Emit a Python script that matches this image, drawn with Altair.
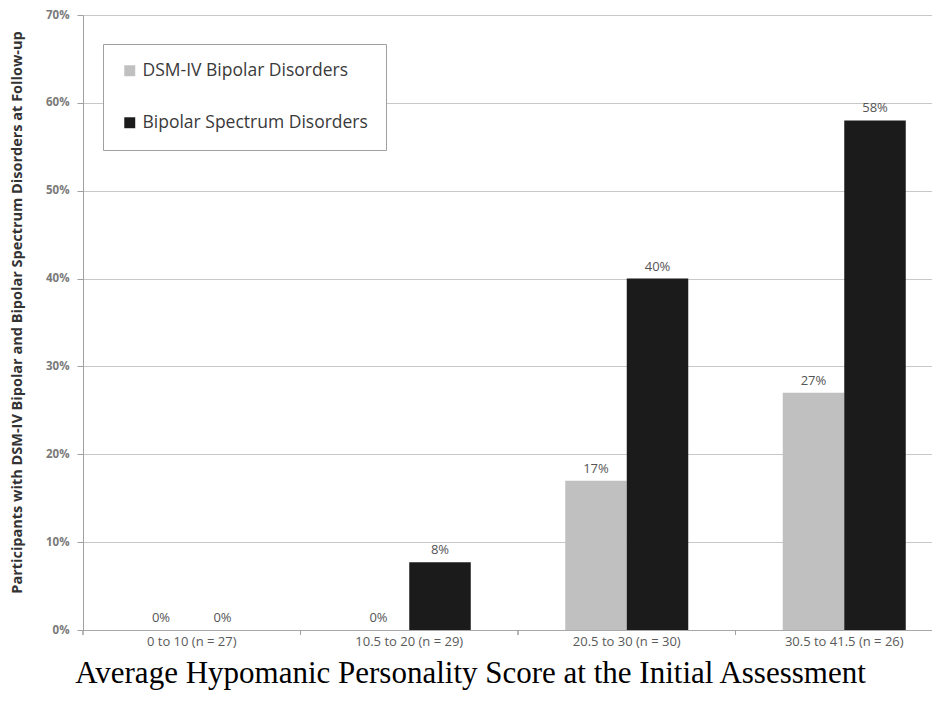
import altair as alt
import pandas as pd

categories = ["0 to 10 (n = 27)", "10.5 to 20 (n = 29)", "20.5 to 30 (n = 30)", "30.5 to 41.5 (n = 26)"]
series = ["DSM-IV Bipolar Disorders", "Bipolar Spectrum Disorders"]
dsm_values = [0, 0, 17, 27]
spectrum_values = [0, 7.7, 40, 58]
y_ticks = [0, 10, 20, 30, 40, 50, 60, 70]

rows = []
for i, c in enumerate(categories):
    rows.append({"cat": c, "series": series[0], "value": dsm_values[i]})
    rows.append({"cat": c, "series": series[1], "value": spectrum_values[i]})
df = pd.DataFrame(rows)

W, H = 849, 615
FONT = "Open Sans"

x_scale = alt.Scale(domain=categories, range=[0, 870], paddingInner=0, paddingOuter=0)
xo_scale = alt.Scale(domain=series, paddingInner=0, paddingOuter=0.768)
y_scale = alt.Scale(domain=[0, 70], nice=False)
color_scale = alt.Scale(domain=series, range=["#c0c0c0", "#1b1b1b"])

base = alt.Chart(df)

x_enc = alt.X(
    "cat:N", scale=x_scale, sort=categories,
    axis=alt.Axis(
        title="Average Hypomanic Personality Score at the Initial Assessment",
        titleFont="Liberation Serif", titleFontSize=31, titleFontWeight="normal",
        titleColor="#000000", titleX=387, titleY=43, titleBaseline="middle",
        titleAlign="center", titleAngle=0,
        labelFont=FONT, labelFontSize=13, labelColor="#5a5a5a", labelFontWeight="normal",
        labelPadding=5, labelAngle=0, ticks=False,
        domainColor="#a8a8a8", grid=False,
    ),
)
y_enc = alt.Y(
    "value:Q", scale=y_scale,
    axis=alt.Axis(
        values=y_ticks, labelExpr="datum.value + '%'",
        title="Participants with DSM-IV Bipolar and Bipolar Spectrum Disorders at Follow-up",
        titleFont=FONT, titleFontSize=14.5, titleFontWeight="bold", titleColor="#333333",
        titleX=-66, titleY=297, titleAngle=270, titleAlign="center", titleBaseline="middle",
        labelFont=FONT, labelFontSize=11.5, labelColor="#7a7a7a", labelFontWeight="bold",
        labelPadding=8, tickSize=6, tickColor="#a0a0a0", domainColor="#a0a0a0",
        grid=True, gridColor="#c8c8c8", gridWidth=1,
    ),
)

bars = base.mark_bar().encode(
    x=x_enc,
    xOffset=alt.XOffset("series:N", scale=xo_scale, sort=series),
    y=y_enc,
    color=alt.Color(
        "series:N", scale=color_scale, sort=series,
        legend=alt.Legend(
            title=None, orient="none", legendX=20, legendY=29, direction="vertical",
            strokeColor="#a0a0a0", fillColor="#ffffff", padding=18, rowPadding=33,
            symbolType="square", symbolSize=120, symbolStrokeWidth=0,
            labelFont=FONT, labelFontSize=17.5, labelColor="#3a3a3a", labelOffset=4,
            labelLimit=400,
        ),
    ),
)

labels = base.transform_calculate(
    label="format(datum.value, '.0f') + '%'"
).mark_text(
    baseline="bottom", dy=-5, font=FONT, fontSize=13, fontWeight="normal", color="#555555"
).encode(
    x=alt.X("cat:N", scale=x_scale, sort=categories),
    xOffset=alt.XOffset("series:N", scale=xo_scale, sort=series),
    y=alt.Y("value:Q", scale=y_scale),
    text="label:N",
)

ticks = base.mark_rule(color="#a0a0a0").encode(
    x=alt.X("cat:N", scale=x_scale, sort=categories, bandPosition=0),
    y=alt.value(H),
    y2=alt.value(H + 5),
)

chart = alt.layer(bars, labels, ticks).properties(
    width=W, height=H,
    autosize="none",
    padding={"left": 75, "top": 7, "right": 0, "bottom": 64},
    background="#ffffff",
).configure_view(stroke=None)

chart.save("out.html", embed_options={"renderer": "svg", "actions": False})
